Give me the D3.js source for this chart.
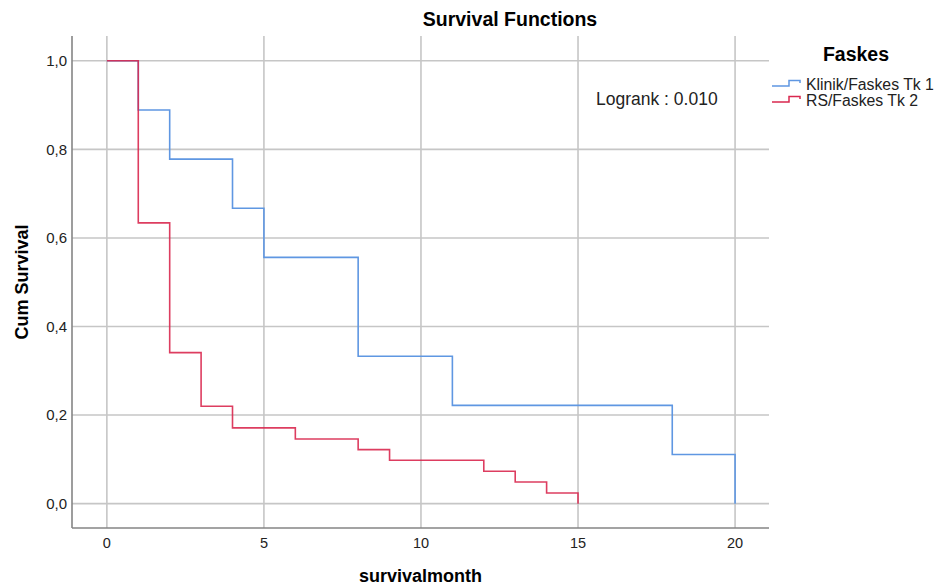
<!DOCTYPE html>
<html>
<head>
<meta charset="utf-8">
<script src="https://cdn.jsdelivr.net/npm/d3@7"></script>
<style>
  body { margin: 0; background: #fff; }
  svg { display: block; font-family: Arial, "Liberation Sans", sans-serif; }
</style>
</head>
<body>
<div id="chart"></div>
<script>
"use strict";

// survival steps
let klinikTime = [0, 1, 2, 4, 5, 8, 11, 18, 20];
let klinikSurv = [1.0, 0.889, 0.778, 0.667, 0.556, 0.333, 0.222, 0.111, 0.0];

let rsTime = [0, 1, 2, 3, 4, 6, 8, 9, 12, 13, 14, 15];
let rsSurv = [1.0, 0.634, 0.341, 0.220, 0.171, 0.146, 0.122, 0.098, 0.073, 0.049, 0.024, 0.0];

let seriesNames = ["Klinik/Faskes Tk 1", "RS/Faskes Tk 2"];
let xTicks = [0, 5, 10, 15, 20];
let yTicks = [0, 0.2, 0.4, 0.6, 0.8, 1.0];

let color1 = "#5f97e2";
let color2 = "#d9284f";

var width = 938,
    height = 588,
    plotLeft = 72,
    plotRight = 769,
    plotTop = 36,
    plotBottom = 528;

var xScale = d3.scaleLinear().domain([-1.11, 21.08]).range([plotLeft, plotRight]);
var yScale = d3.scaleLinear().domain([-0.055, 1.056]).range([plotBottom, plotTop]);

var commaFmt = d3.formatLocale({ decimal: ",", thousands: ".", grouping: [3], currency: ["", ""] }).format(".1f");

var svg = d3.select("#chart").append("svg")
  .attr("width", width)
  .attr("height", height);

// grid
svg.append("g").selectAll("line").data(yTicks)
  .enter().append("line")
    .attr("x1", plotLeft).attr("x2", plotRight)
    .attr("y1", d => yScale(d)).attr("y2", d => yScale(d))
    .attr("stroke", "#c6c6c6").attr("stroke-width", 1.6);

svg.append("g").selectAll("line").data(xTicks)
  .enter().append("line")
    .attr("x1", d => xScale(d)).attr("x2", d => xScale(d))
    .attr("y1", plotTop).attr("y2", plotBottom)
    .attr("stroke", "#c6c6c6").attr("stroke-width", 1.6);

// axes lines
svg.append("line")
  .attr("x1", plotLeft).attr("x2", plotLeft).attr("y1", plotTop).attr("y2", plotBottom)
  .attr("stroke", "#858585").attr("stroke-width", 1.6);
svg.append("line")
  .attr("x1", plotLeft).attr("x2", plotRight).attr("y1", plotBottom).attr("y2", plotBottom)
  .attr("stroke", "#858585").attr("stroke-width", 1.6);

// tick labels
svg.append("g").selectAll("text").data(yTicks)
  .enter().append("text")
    .attr("x", 67)
    .attr("y", d => yScale(d))
    .attr("dy", "0.35em")
    .attr("text-anchor", "end")
    .attr("font-size", 15)
    .attr("fill", "#222")
    .text(d => commaFmt(d));

svg.append("g").selectAll("text").data(xTicks)
  .enter().append("text")
    .attr("x", d => xScale(d))
    .attr("y", 543)
    .attr("dy", "0.35em")
    .attr("text-anchor", "middle")
    .attr("font-size", 14.5)
    .attr("fill", "#222")
    .text(d => d);

// titles
svg.append("text")
  .attr("x", 510).attr("y", 26)
  .attr("text-anchor", "middle")
  .attr("font-size", 19.5).attr("font-weight", "bold")
  .text("Survival Functions");

svg.append("text")
  .attr("x", (plotLeft + plotRight) / 2).attr("y", 582)
  .attr("text-anchor", "middle")
  .attr("font-size", 18).attr("font-weight", "bold")
  .text("survivalmonth");

svg.append("text")
  .attr("transform", "translate(28," + ((plotTop + plotBottom) / 2) + ") rotate(-90)")
  .attr("text-anchor", "middle")
  .attr("font-size", 18).attr("font-weight", "bold")
  .text("Cum Survival");

// step lines
var stepLine = d3.line()
  .x(d => xScale(d[0]))
  .y(d => yScale(d[1]))
  .curve(d3.curveStepAfter);

svg.append("path")
  .datum(d3.zip(klinikTime, klinikSurv))
  .attr("d", stepLine)
  .attr("fill", "none")
  .attr("stroke", color1)
  .attr("stroke-width", 1.6);

svg.append("path")
  .datum(d3.zip(rsTime, rsSurv))
  .attr("d", stepLine)
  .attr("fill", "none")
  .attr("stroke", color2)
  .attr("stroke-width", 1.6)
  .attr("stroke-opacity", 0.9);

// logrank note
svg.append("text")
  .attr("x", 596).attr("y", 105)
  .attr("font-size", 17.5)
  .attr("fill", "#222")
  .text("Logrank : 0.010");

// legend
svg.append("text")
  .attr("x", 856).attr("y", 61)
  .attr("text-anchor", "middle")
  .attr("font-size", 19.5).attr("font-weight", "bold")
  .text("Faskes");

var legendColors = [color1, color2];
var legend = svg.append("g").selectAll("g").data(seriesNames)
  .enter().append("g")
    .attr("transform", (d, i) => "translate(772," + (84 + i * 16) + ")");

legend.append("path")
  .attr("d", "M0,2H17V-3.5H28V-1")
  .attr("fill", "none")
  .attr("stroke", (d, i) => legendColors[i])
  .attr("stroke-width", 1.5);

legend.append("text")
  .attr("x", 34)
  .attr("dy", "0.35em")
  .attr("font-size", 15.8)
  .attr("fill", "#222")
  .text(d => d);
</script>
</body>
</html>
